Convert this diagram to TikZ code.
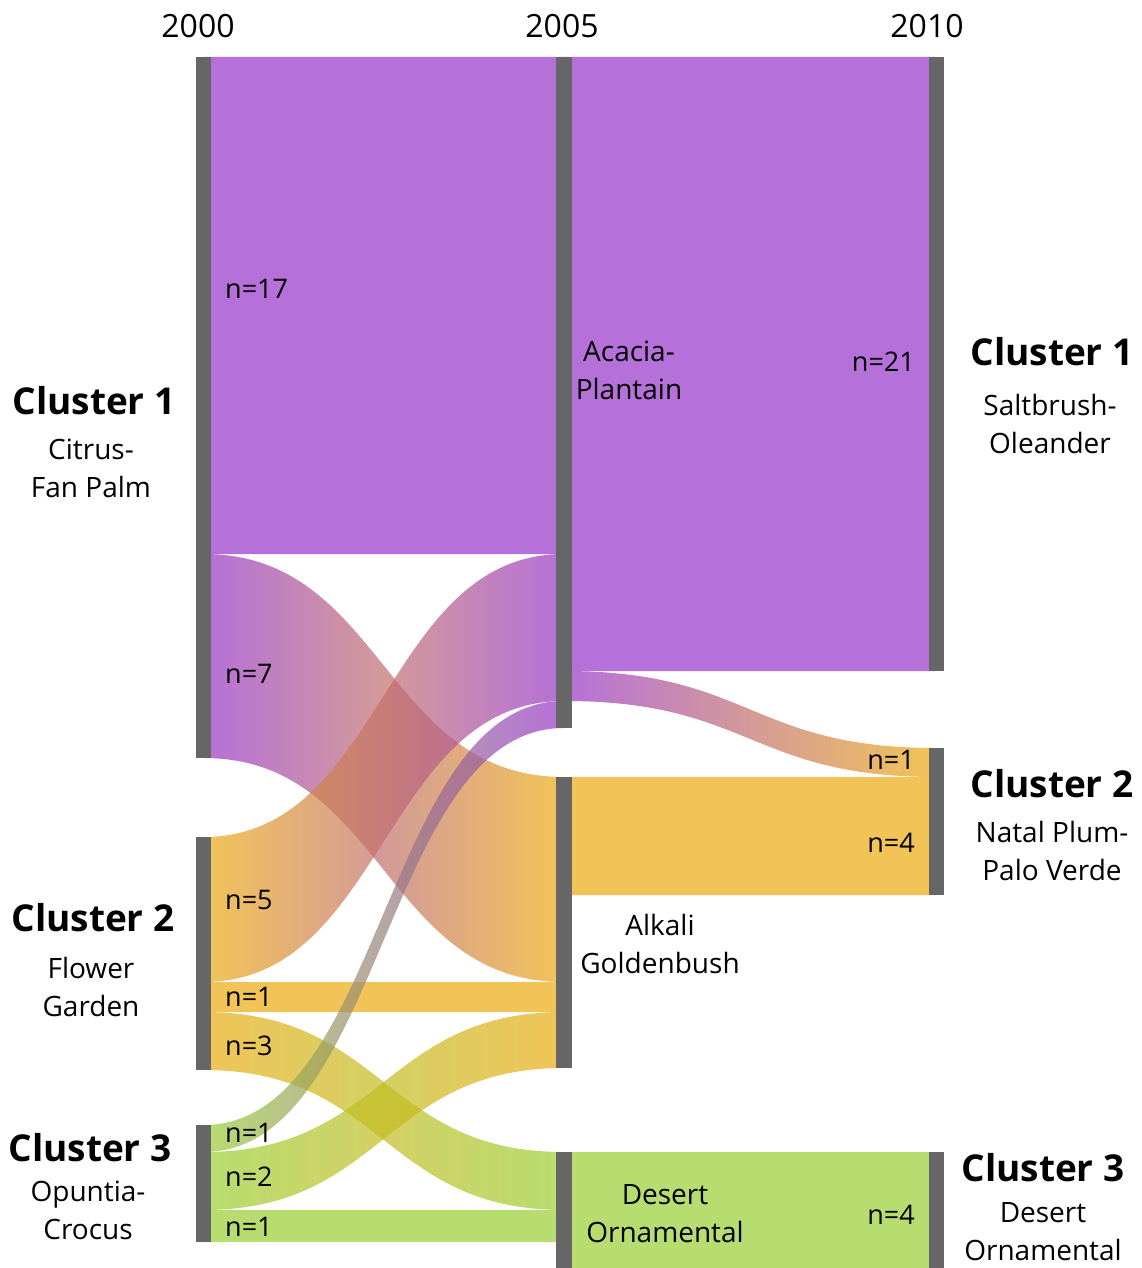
\documentclass[tikz,border=0pt]{standalone}
\usepackage{fontspec}
\setmainfont{Open Sans}
\setsansfont{Open Sans}
\usetikzlibrary{calc}

% cluster colours (deep tones, seen lighter through the band opacity)
\definecolor{purpleFlow}{HTML}{9633C9}
\definecolor{orangeFlow}{HTML}{ECAB10}
\definecolor{greenFlow}{HTML}{99CF33}
\definecolor{barGray}{HTML}{666666}

\tikzset{every picture/.style={/utils/exec={\sffamily}}}
\tikzset{x=1pt, y=-1pt,
  every node/.style={inner sep=0pt},
  bar/.style={fill=barGray, minimum width=15pt, anchor=north},
  band/.style={draw=none, fill opacity=0.7},
  year/.style={font=\fontsize{32}{38}\selectfont},
  cluster/.style={font=\fontsize{37}{44}\selectfont\bfseries},
  kind/.style={font=\fontsize{28}{38}\selectfont, align=center},
  count/.style={font=\fontsize{27}{32}\selectfont}}

% band between two bars: style, from bar, top, bottom, to bar, top, bottom
\newcommand{\flowband}[7]{%
  \path[band,#1] let \p1=(#2.center), \p2=(#5.center) in
    (\x1,-#3pt) .. controls ({(\x1+\x2)/2},-#3pt) and ({(\x1+\x2)/2},-#6pt) .. (\x2,-#6pt)
    -- (\x2,-#7pt) .. controls ({(\x1+\x2)/2},-#7pt) and ({(\x1+\x2)/2},-#4pt) .. (\x1,-#4pt)
    -- cycle;}

\begin{document}
\begin{tikzpicture}
  \useasboundingbox (0,0) rectangle (1141,1268);

  % bars
  \path (203.5,57) node[bar, minimum height=701pt] (aOne) {};
  \path (203.5,837) node[bar, minimum height=233pt] (aTwo) {};
  \path (203.5,1125) node[bar, minimum height=117pt] (aThree) {};
  \path (564,57) node[bar, minimum height=671pt] (bOne) {};
  \path (564,777) node[bar, minimum height=291pt] (bTwo) {};
  \path (564,1152) node[bar, minimum height=116pt] (bThree) {};
  \path (936.5,57) node[bar, minimum height=614pt] (cOne) {};
  \path (936.5,748) node[bar, minimum height=147pt] (cTwo) {};
  \path (936.5,1152) node[bar, minimum height=116pt] (cThree) {};

  % 2000 -> 2005
  \flowband{fill=purpleFlow}{aOne}{57}{554}{bOne}{57}{554}
  \flowband{left color=purpleFlow, right color=orangeFlow}{aOne}{554}{758}{bTwo}{777}{982}
  \flowband{left color=orangeFlow, right color=purpleFlow}{aTwo}{837}{982}{bOne}{554}{701}
  \flowband{fill=orangeFlow}{aTwo}{982}{1012}{bTwo}{982}{1012}
  \flowband{left color=orangeFlow, right color=greenFlow}{aTwo}{1012}{1070}{bThree}{1152}{1210}
  \flowband{left color=greenFlow, right color=purpleFlow}{aThree}{1125}{1152}{bOne}{701}{728}
  \flowband{left color=greenFlow, right color=orangeFlow}{aThree}{1152}{1210}{bTwo}{1012}{1068}
  \flowband{fill=greenFlow}{aThree}{1210}{1242}{bThree}{1210}{1242}
  % 2005 -> 2010
  \flowband{fill=purpleFlow}{bOne}{57}{671}{cOne}{57}{671}
  \flowband{left color=purpleFlow, right color=orangeFlow}{bOne}{671}{701}{cTwo}{748}{777}
  \flowband{fill=orangeFlow}{bTwo}{777}{895}{cTwo}{777}{895}
  \flowband{fill=greenFlow}{bThree}{1152}{1268}{cThree}{1152}{1268}

  % bars on top of the bands
  \foreach \b in {aOne,aTwo,aThree,bOne,bTwo,bThree,cOne,cTwo,cThree}
    \fill[barGray] (\b.north west) rectangle (\b.south east);

  % years
  \node[year] (yA) at (198,26) {2000};
  \node[year] (yB) at (562,26) {2005};
  \node[year] (yC) at (927,26) {2010};

  % 2000 labels
  \node[cluster] (lOne) at (94,401) {Cluster 1};
  \node[kind] (kOne) at (91,468) {Citrus-\\Fan Palm};
  \node[cluster] (lTwo) at (93,918) {Cluster 2};
  \node[kind] (kTwo) at (91,987) {Flower\\Garden};
  \node[cluster] (lThree) at (90,1148) {Cluster 3};
  \node[kind] (kThree) at (88,1210) {Opuntia-\\Crocus};

  % 2005 labels
  \node[kind] (mOne) at (629,370) {Acacia-\\Plantain};
  \node[kind] (mTwo) at (660,944) {Alkali\\Goldenbush};
  \node[kind] (mThree) at (665,1214) {Desert\\Ornamental};

  % 2010 labels
  \node[cluster] (rOne) at (1052,352) {Cluster 1};
  \node[kind] (sOne) at (1050,424) {Saltbrush-\\Oleander};
  \node[cluster] (rTwo) at (1052,784) {Cluster 2};
  \node[kind] (sTwo) at (1052,851) {Natal Plum-\\Palo Verde};
  \node[cluster] (rThree) at (1043,1168) {Cluster 3};
  \node[kind] (sThree) at (1043,1232) {Desert\\Ornamental};

  % counts
  \node[count, anchor=west] (nA) at (225,289) {n=17};
  \node[count, anchor=west] (nB) at (225,674) {n=7};
  \node[count, anchor=west] (nC) at (225,900) {n=5};
  \node[count, anchor=west] (nD) at (225,997) {n=1};
  \node[count, anchor=west] (nE) at (225,1046) {n=3};
  \node[count, anchor=west] (nF) at (225,1133) {n=1};
  \node[count, anchor=west] (nG) at (225,1177) {n=2};
  \node[count, anchor=west] (nH) at (225,1227) {n=1};
  \node[count, anchor=east] (nI) at (915,362) {n=21};
  \node[count, anchor=east] (nJ) at (915,760) {n=1};
  \node[count, anchor=east] (nK) at (915,843) {n=4};
  \node[count, anchor=east] (nL) at (915,1215) {n=4};
\end{tikzpicture}
\end{document}
